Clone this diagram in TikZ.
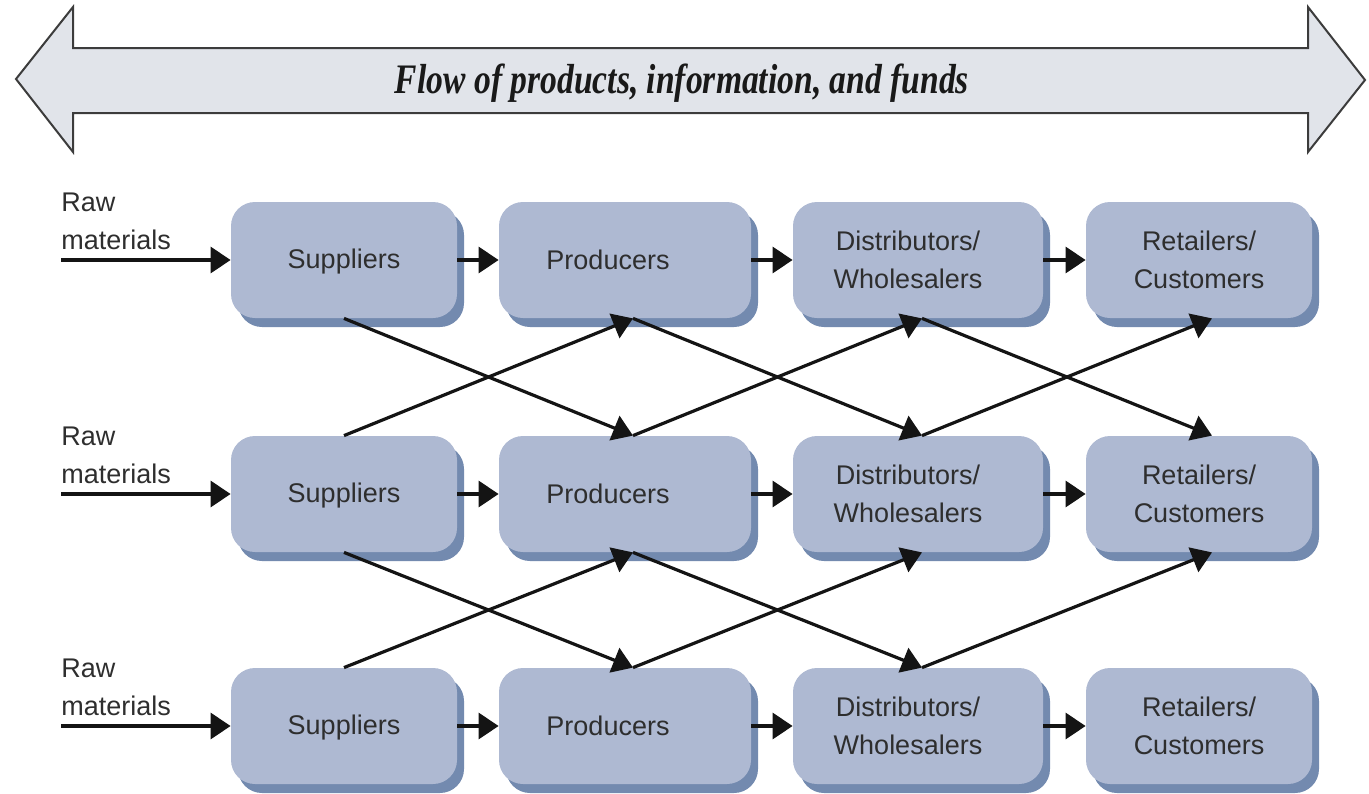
\documentclass[tikz,border=0pt]{standalone}
\usepackage{fontspec}
\setmainfont{Liberation Sans}
\newfontfamily\flowfont[FakeStretch=0.8]{Liberation Serif}
\usetikzlibrary{arrows.meta,shadows}
\definecolor{boxfill}{HTML}{AEB9D2}
\definecolor{boxshade}{HTML}{738AAF}
\definecolor{bandfill}{HTML}{E1E4EA}
\definecolor{bandline}{HTML}{3C3C3C}
\definecolor{inktext}{HTML}{2E2E2E}

\begin{document}
\begin{tikzpicture}[x=0.5pt, y=-0.5pt,
    stage/.style={rounded corners=12pt, fill=boxfill, inner sep=0pt,
      minimum height=58pt,
      drop shadow={shadow xshift=3.5pt, shadow yshift=-4.5pt,
        fill=boxshade, opacity=1}},
    stagetext/.style={align=center, inner sep=0pt, text=inktext,
      font=\fontsize{13.5}{19}\selectfont},
    flow/.style={-{Triangle[length=10pt,width=13pt]}, line width=1.6pt,
      black!92}]
    \useasboundingbox (0,0) rectangle (1369,793);
    % double arrow on top
    \draw[bandline, fill=bandfill, line width=1pt] (16,79) -- (73,7) -- (73,48)
        -- (1308,48) -- (1308,7) -- (1365,80) -- (1308,152) -- (1308,113)
        -- (73,113) -- (73,152) -- cycle;
    \node[text=black!90] (band) at (682,83)
        {\flowfont\fontsize{21}{24}\selectfont\bfseries\itshape
         Flow of products, information, and funds};
    % the three chains
    \foreach \r/\y in {1/260, 2/494, 3/726}{
        \node[stage, minimum width=113pt,
            label={[stagetext, yshift=-1pt]center:Suppliers}] (sup\r) at (344,\y) {};
        \node[stage, minimum width=126pt,
            label={[stagetext, xshift=-8.5pt]center:Producers}] (pro\r) at (625,\y) {};
        \node[stage, minimum width=125pt,
            label={[stagetext, xshift=-5pt]center:Distributors/\\Wholesalers}] (dis\r) at (918,\y) {};
        \node[stage, minimum width=113pt,
            label={[stagetext]center:Retailers/\\Customers}] (ret\r) at (1199,\y) {};
        \node[stagetext, align=left, anchor=west] (raw\r) at (61,\y-39) {Raw\\materials};
        \coordinate (in\r) at (61,\y);
        \draw[flow] (in\r) -- (sup\r.west);
        \draw[flow] (sup\r.east) -- (pro\r.west);
        \draw[flow] (pro\r.east) -- (dis\r.west);
        \draw[flow] (dis\r.east) -- (ret\r.west);
    };
    % crossing links between the rows
    \foreach \r/\s in {1/2, 2/3}{
        \draw[flow] (sup\r.south) -- ([xshift=4pt]pro\s.north);
        \draw[flow] (sup\s.north) -- ([xshift=4pt]pro\r.south);
        \draw[flow] ([xshift=4pt]pro\r.south) -- ([xshift=2pt]dis\s.north);
        \draw[flow] ([xshift=4pt]pro\s.north) -- ([xshift=2pt]dis\r.south);
        \draw[flow] ([xshift=2pt]dis\s.north) -- ([xshift=6.5pt]ret\r.south);
    };
    \draw[flow] ([xshift=2pt]dis1.south) -- ([xshift=6.5pt]ret2.north);
\end{tikzpicture}
\end{document}
